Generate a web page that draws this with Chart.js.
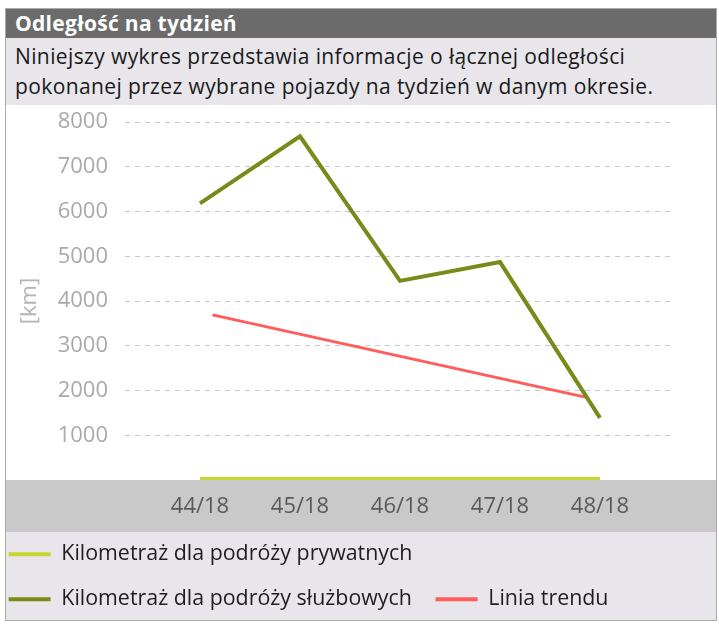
<!DOCTYPE html>
<html lang="pl">
<head>
<meta charset="utf-8">
<title>Odległość na tydzień</title>
<script src="https://cdn.jsdelivr.net/npm/chart.js@4.4.0/dist/chart.umd.min.js"></script>
<style>
  html, body { margin: 0; padding: 0; background: #fff; }
  body { font-family: "Open Sans", sans-serif; }
  .panel {
    position: absolute; left: 5px; top: 8px;
    width: 710px; height: 611px;
    border: 1px solid #ababab; overflow: hidden; background: #e8e6ea;
  }
  .panel-header {
    height: 29px; line-height: 29px; padding-left: 9px;
    background: #6b6b6b; color: #fff; font-weight: bold; font-size: 21px; letter-spacing: 0.3px;
  }
  .panel-desc {
    height: 67px; box-sizing: border-box; padding: 3px 0 0 9px;
    font-size: 21px; line-height: 30px; letter-spacing: 0.38px; color: #1a1a1a; white-space: nowrap;
  }
  .chart-box { margin-left: -21px; width: 731px; height: 515px; }
</style>
</head>
<body>
<div class="panel">
  <div class="panel-header">Odległość na tydzień</div>
  <div class="panel-desc">Niniejszy wykres przedstawia informacje o łącznej odległości<br>pokonanej przez wybrane pojazdy na tydzień w danym okresie.</div>
  <div class="chart-box"><canvas id="distance-chart" width="731" height="515"></canvas></div>
</div>
<script>
// weeks on the x axis
const weeks = ['44/18', '45/18', '46/18', '47/18', '48/18'];
// km per week
const privateKm = [0, 0, 0, 0, 0];
const businessKm = [6180, 7680, 4450, 4870, 1390];
// trend line end points (week index, km)
const trendWeek = [0.125, 3.875];
const trendKm = [3690, 1840];

const STRIP_HEIGHT = 52;

// white plot, grey axis strip, light legend area
const panelBackground = {
  id: 'panelBackground',
  beforeDraw(chart) {
    const {ctx, width, height, chartArea} = chart;
    ctx.save();
    ctx.fillStyle = '#ffffff';
    ctx.fillRect(0, 0, width, chartArea.bottom);
    ctx.fillStyle = '#c9c9c9';
    ctx.fillRect(0, chartArea.bottom, width, STRIP_HEIGHT);
    ctx.fillStyle = '#e8e6ea';
    ctx.fillRect(0, chartArea.bottom + STRIP_HEIGHT, width, height);
    ctx.restore();
  }
};

Chart.defaults.font.family = '"Open Sans", sans-serif';

new Chart(document.getElementById('distance-chart'), {
  type: 'line',
  data: {
    datasets: [
      {
        label: 'Kilometraż dla podróży prywatnych',
        data: privateKm.map((v, i) => ({x: i, y: v})),
        borderColor: '#c5d72e',
        backgroundColor: '#c5d72e',
        borderWidth: 6,
        clip: 0,
        pointRadius: 0
      },
      {
        label: 'Kilometraż dla podróży służbowych',
        data: businessKm.map((v, i) => ({x: i, y: v})),
        borderColor: '#778a1a',
        backgroundColor: '#778a1a',
        borderWidth: 4,
        pointRadius: 0
      },
      {
        label: 'Linia trendu',
        data: trendKm.map((v, i) => ({x: trendWeek[i], y: v})),
        borderColor: '#ff5c5c',
        backgroundColor: '#ff5c5c',
        borderWidth: 3,
        pointRadius: 0
      }
    ]
  },
  options: {
    responsive: false,
    animation: false,
    layout: {padding: {top: 17, right: 41, bottom: 0, left: 0}},
    scales: {
      x: {
        type: 'linear',
        min: -0.75,
        max: 4.75,
        afterBuildTicks: axis => { axis.ticks = weeks.map((w, i) => ({value: i})); },
        afterFit: axis => { axis.height = 40; },
        grid: {display: false},
        border: {display: false},
        ticks: {
          padding: 6,
          color: '#5a5a5a',
          font: {size: 22},
          maxRotation: 0,
          autoSkip: false,
          callback: v => weeks[v]
        }
      },
      y: {
        min: 0,
        max: 8000,
        afterBuildTicks: axis => { axis.ticks = axis.ticks.filter(t => t.value > 0); },
        afterFit: axis => {
          axis.width = 140;
          axis.paddingTop = 0;
          axis.paddingBottom = 0;
        },
        title: {
          display: true,
          text: '[km]',
          color: '#b5b5b5',
          font: {size: 22},
          padding: {top: 32, bottom: 0}
        },
        ticks: {
          stepSize: 1000,
          padding: 17,
          color: '#a9a9a9',
          font: {size: 22},
          callback: v => String(v)
        },
        grid: {color: '#c8c8c8', lineWidth: 1, drawTicks: false},
        border: {display: false, dash: [5, 5]}
      }
    },
    plugins: {
      tooltip: {enabled: false},
      legend: {
        position: 'bottom',
        align: 'start',
        labels: {
          boxWidth: 42,
          boxHeight: 4,
          padding: 23.6,
          color: '#1e1e1e',
          font: {size: 21.4},
          generateLabels: chart => Chart.defaults.plugins.legend.labels.generateLabels(chart)
            .map(item => Object.assign(item, {fillStyle: item.strokeStyle, lineWidth: 0}))
        }
      }
    }
  },
  plugins: [panelBackground]
});
</script>
</body>
</html>
